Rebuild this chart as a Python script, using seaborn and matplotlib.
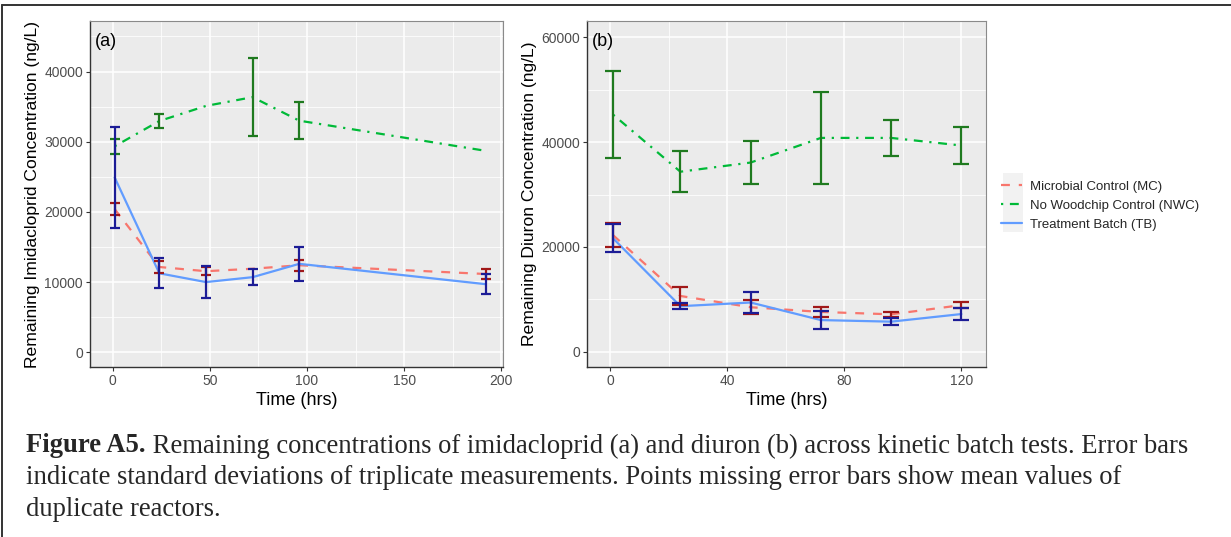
import numpy as np
import pandas as pd
import matplotlib
matplotlib.use("Agg")
import matplotlib.pyplot as plt
import seaborn as sns
from matplotlib.lines import Line2D
from matplotlib.patches import Rectangle
from matplotlib.ticker import MultipleLocator

nan = np.nan

# ---------------- data ----------------
series_names = ["Microbial Control (MC)", "No Woodchip Control (NWC)", "Treatment Batch (TB)"]

# Panel (a) imidacloprid
time_a = [1, 24, 48, 72, 96, 192]
mc_a = [20400, 12150, 11550, 11900, 12400, 11150]
mc_a_sd = [800, 850, 550, nan, 800, 650]
nwc_a = [29350, 32950, 35100, 36350, 33000, 28700]
nwc_a_sd = [1050, 950, nan, 5550, 2600, nan]
tb_a = [24900, 11250, 10000, 10700, 12600, 9700]
tb_a_sd = [7200, 2150, 2300, 1100, 2400, 1400]

# Panel (b) diuron
time_b = [1, 24, 48, 72, 96, 120]
mc_b = [22250, 10650, 8500, 7600, 7150, 8900]
mc_b_sd = [2350, 1750, 1300, 900, 450, 600]
nwc_b = [45250, 34350, 36100, 40800, 40800, 39350]
nwc_b_sd = [8250, 3950, 4100, 8700, 3500, 3550]
tb_b = [21650, 8700, 9400, 6050, 5750, 7200]
tb_b_sd = [2650, 600, 2000, 1650, 650, 1100]

caption_bold = "Figure A5."
caption_lines = [
    " Remaining concentrations of imidacloprid (a) and diuron (b) across kinetic batch tests. Error bars",
    "indicate standard deviations of triplicate measurements. Points missing error bars show mean values of",
    "duplicate reactors.",
]

# ---------------- styles ----------------
line_colors = {series_names[0]: "#F8766D", series_names[1]: "#00BA38", series_names[2]: "#619CFF"}
bar_colors = {series_names[0]: "#A01818", series_names[1]: "#1F7A1F", series_names[2]: "#1C1C96"}
line_dashes = {series_names[0]: (4, 4), series_names[1]: (1, 3, 4, 3), series_names[2]: ""}

sns.set_theme(style="darkgrid")
plt.rcParams["font.family"] = ["Liberation Sans", "DejaVu Sans"]

W, H = 1231, 537
fig = plt.figure(figsize=(W / 100, H / 100), dpi=100)
fig.patch.set_facecolor("white")


def px_axes(x0, x1, ytop, ybot):
    return fig.add_axes([x0 / W, (H - ybot) / H, (x1 - x0) / W, (ybot - ytop) / H])


def build_df(t, m1, s1, m2, s2, m3, s3):
    frames = []
    for name, m, s in zip(series_names, [m1, m2, m3], [s1, s2, s3]):
        frames.append(pd.DataFrame({"time": t, "conc": m, "sd": s, "series": name}))
    return pd.concat(frames, ignore_index=True)


df_a = build_df(time_a, mc_a, mc_a_sd, nwc_a, nwc_a_sd, tb_a, tb_a_sd)
df_b = build_df(time_b, mc_b, mc_b_sd, nwc_b, nwc_b_sd, tb_b, tb_b_sd)


def draw_panel(ax, df, xlim, ylim, xmaj, xmin, ymaj, ymin, ylabel, tag, capsize):
    ax.set_facecolor("#EBEBEB")
    for name in series_names:
        sub = df[df["series"] == name]
        sns.lineplot(data=sub, x="time", y="conc", ax=ax, color=line_colors[name],
                     lw=1.6, dashes=False, legend=False, zorder=3)
        ln = ax.get_lines()[-1]
        if line_dashes[name]:
            ln.set_dashes(line_dashes[name])
    for name in series_names:
        sub = df[(df["series"] == name) & df["sd"].notna()]
        ax.errorbar(sub["time"], sub["conc"], yerr=sub["sd"], fmt="none",
                    ecolor=bar_colors[name], elinewidth=1.6, capsize=capsize,
                    capthick=1.6, zorder=4)
    ax.set_xlim(*xlim)
    ax.set_ylim(*ylim)
    ax.xaxis.set_major_locator(MultipleLocator(xmaj))
    ax.xaxis.set_minor_locator(MultipleLocator(xmin))
    ax.yaxis.set_major_locator(MultipleLocator(ymaj))
    ax.yaxis.set_minor_locator(MultipleLocator(ymin))
    ax.grid(which="major", color="white", lw=1.1)
    ax.grid(which="minor", color="white", lw=0.55)
    ax.set_axisbelow(True)
    ax.tick_params(which="major", length=3, width=0.8, color="#333333",
                   labelsize=10, labelcolor="#4D4D4D", pad=2,
                   bottom=True, left=True)
    ax.tick_params(which="minor", length=0)
    for side in ["left", "bottom"]:
        ax.spines[side].set_visible(True)
        ax.spines[side].set_color("#333333")
        ax.spines[side].set_linewidth(1.0)
    for side in ["top", "right"]:
        ax.spines[side].set_visible(True)
        ax.spines[side].set_color("#8A8A8A")
        ax.spines[side].set_linewidth(0.8)
    ax.set_xlabel("Time (hrs)", fontsize=13, color="black", labelpad=3)
    ax.set_ylabel(ylabel, fontsize=12.6, color="black", labelpad=3)
    ax.text(0.012, 0.94, tag, transform=ax.transAxes, fontsize=13, color="black",
            ha="left", va="center")


ax_a = px_axes(90, 503, 21, 367)
draw_panel(ax_a, df_a, (-11.7, 200.9), (-2100, 47200), 50, 25, 10000, 5000,
           "Remaining Imidacloprid Concentration (ng/L)", "(a)", 3.3)

ax_b = px_axes(587, 986, 21, 367)
draw_panel(ax_b, df_b, (-7.9, 128.4), (-2900, 63100), 40, 20, 20000, 10000,
           "Remaining Diuron Concentration (ng/L)", "(b)", 5.6)

# legend
handles = [Line2D([0], [0], color=line_colors[n], lw=1.6,
                  dashes=line_dashes[n] if line_dashes[n] else (None, None))
           for n in series_names]
fig.add_artist(Rectangle((1003 / W, (H - 232) / H), 20 / W, 59 / H,
                         transform=fig.transFigure, facecolor="#F2F2F2",
                         edgecolor="none", zorder=0))
leg = fig.legend(handles, series_names, loc="upper left",
                 bbox_to_anchor=(998 / W, (H - 178) / H), frameon=False,
                 fontsize=9.5, handlelength=1.6, handletextpad=0.6,
                 labelspacing=0.5, borderaxespad=0, borderpad=0.2)

# figure border (top and left)
fig.add_artist(Line2D([2.5 / W, 1.0], [(H - 4.5) / H, (H - 4.5) / H],
                      transform=fig.transFigure, color="#333333", lw=1.4))
fig.add_artist(Line2D([2.5 / W, 2.5 / W], [0, (H - 4.5) / H],
                      transform=fig.transFigure, color="#333333", lw=1.4))

# caption
serif = ["Liberation Serif", "DejaVu Serif"]
cap_size = 19.2
y0 = 446
line_gap = 31.5
t_bold = fig.text(26 / W, (H - y0) / H, caption_bold, fontsize=cap_size,
                  fontweight="bold", family=serif, ha="left", va="center")
fig.canvas.draw()
bb = t_bold.get_window_extent(renderer=fig.canvas.get_renderer())
fig.text(bb.x1 / W, (H - y0) / H, caption_lines[0], fontsize=cap_size,
         family=serif, ha="left", va="center")
for i, txt in enumerate(caption_lines[1:], start=1):
    fig.text(26 / W, (H - y0 - i * line_gap) / H, txt, fontsize=cap_size,
             family=serif, ha="left", va="center")

fig.savefig("out.png", dpi=100)
